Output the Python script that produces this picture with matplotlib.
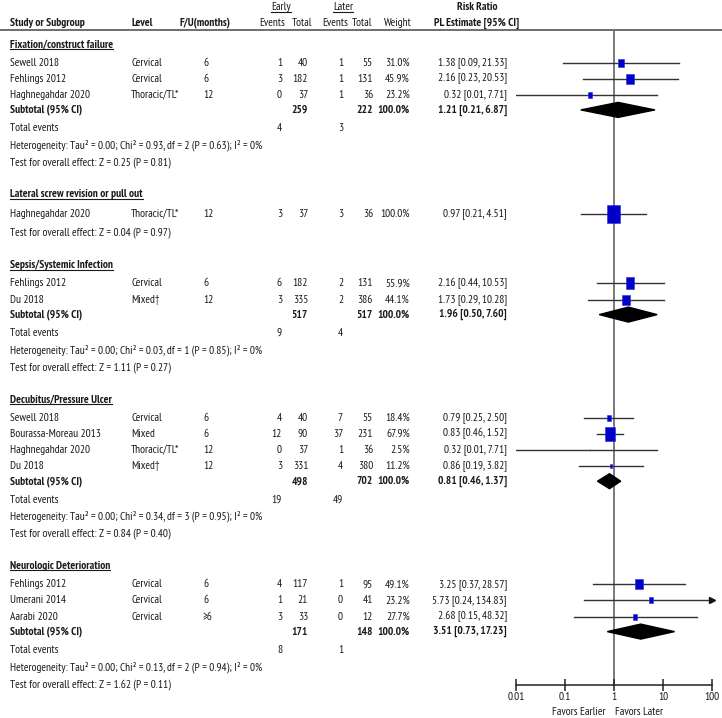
import matplotlib
matplotlib.use("Agg")
import matplotlib.pyplot as plt
from matplotlib import font_manager
from matplotlib.path import Path

# ------------------ DATA ------------------
GRUPOS = ["Fixation/construct failure", "Lateral screw revision or pull out",
          "Sepsis/Systemic Infection", "Decubitus/Pressure Ulcer",
          "Neurologic Deterioration"]

grupo = [0, 0, 0, 1, 2, 2, 3, 3, 3, 3, 4, 4, 4]
estudio = ["Sewell 2018", "Fehlings 2012", "Haghnegahdar 2020",
           "Haghnegahdar 2020",
           "Fehlings 2012", "Du 2018",
           "Sewell 2018", "Bourassa-Moreau 2013", "Haghnegahdar 2020", "Du 2018",
           "Fehlings 2012", "Umerani 2014", "Aarabi 2020"]
nivel = ["Cervical", "Cervical", "Thoracic/TL*",
         "Thoracic/TL*",
         "Cervical", "Mixed†",
         "Cervical", "Mixed", "Thoracic/TL*", "Mixed†",
         "Cervical", "Cervical", "Cervical"]
seguimiento = ["6", "6", "12", "12", "6", "12", "6", "6", "12", "12", "6", "6", "≥6"]
ev_early = [1, 3, 0, 3, 6, 3, 4, 12, 0, 3, 4, 1, 3]
n_early = [40, 182, 37, 37, 182, 335, 40, 90, 37, 331, 117, 21, 33]
ev_later = [1, 1, 1, 3, 2, 2, 7, 37, 1, 4, 1, 0, 0]
n_later = [55, 131, 36, 36, 131, 386, 55, 231, 36, 380, 95, 41, 12]
peso = [31.0, 45.9, 23.2, 100.0, 55.9, 44.1, 18.4, 67.9, 2.5, 11.2, 49.1, 23.2, 27.7]
rr = [1.38, 2.16, 0.32, 0.97, 2.16, 1.73, 0.79, 0.83, 0.32, 0.86, 3.25, 5.73, 2.68]
rr_lo = [0.09, 0.23, 0.01, 0.21, 0.44, 0.29, 0.25, 0.46, 0.01, 0.19, 0.37, 0.24, 0.15]
rr_hi = [21.33, 20.53, 7.71, 4.51, 10.53, 10.28, 2.50, 1.52, 7.71, 3.82, 28.57, 134.83, 48.32]

# subtotales por grupo (None = sin subtotal)
sub_n_early = [259, None, 517, 498, 171]
sub_n_later = [222, None, 517, 702, 148]
sub_rr = [1.21, None, 1.96, 0.81, 3.51]
sub_lo = [0.21, None, 0.50, 0.46, 0.73]
sub_hi = [6.87, None, 7.60, 1.37, 17.23]
tot_early = [4, None, 9, 19, 8]
tot_later = [3, None, 4, 49, 1]
chi2 = [0.93, None, 0.03, 0.34, 0.13]
gl = [2, None, 1, 3, 2]
p_het = [0.63, None, 0.85, 0.95, 0.94]
z_val = [0.25, 0.04, 1.11, 0.84, 1.62]
p_z = [0.81, 0.97, 0.27, 0.40, 0.11]

TICKS = [0.01, 0.1, 1, 10, 100]
TICK_LABELS = ["0.01", "0.1", "1", "10", "100"]


# ------------------ FUENTE ------------------
def elegir_fuente():
    preferidas = ["Liberation Sans Narrow", "Arial Narrow", "Nimbus Sans Narrow",
                  "PT Sans Narrow", "Roboto Condensed", "Open Sans Condensed",
                  "IBM Plex Sans Condensed", "Fira Sans Condensed", "Liberation Sans"]
    caras = font_manager.fontManager.ttflist
    for nombre in preferidas:
        estaticas = [f for f in caras if f.name == nombre and "[" not in f.fname]
        pesos = {f.weight for f in estaticas if f.style == "normal"}
        if any(w <= 450 for w in pesos) and any(w >= 600 for w in pesos):
            return nombre
    return "Liberation Sans"


FUENTE = elegir_fuente()
plt.rcParams["font.family"] = [FUENTE, "DejaVu Sans"]
TXT = "#1a1a1a"
AZUL = "#0000c8"

W, H = 722, 718
fig = plt.figure(figsize=(W / 100, H / 100), dpi=100)
ax = fig.add_axes([0, 0, 1, 1])
ax.set_xlim(0, W)
ax.set_ylim(H, 0)
ax.axis("off")

# tamaño de letra ajustado al ancho de la linea de heterogeneidad (~255 px)
r = fig.canvas.get_renderer()
prueba = ax.text(0, 0, "Heterogeneity: Tau² = 0.00; Chi² = 0.93, df = 2 (P = 0.63); I² = 0%",
                 fontsize=10)
FS = min(8.2, 10 * 255 / prueba.get_window_extent(r).width)
prueba.remove()

# eje del forest plot (escala log)
X0, X1 = 516, 712
fax = fig.add_axes([X0 / W, 0, (X1 - X0) / W, 1])
fax.set_xscale("log")
fax.set_xlim(0.01, 100)
fax.set_ylim(H, 0)
fax.patch.set_alpha(0)
for s in ["top", "left", "right"]:
    fax.spines[s].set_visible(False)
Y_EJE = 685
fax.spines["bottom"].set_position(("data", Y_EJE))
fax.spines["bottom"].set_color("#222222")
fax.spines["bottom"].set_linewidth(1.1)
fax.set_xticks(TICKS)
fax.set_xticklabels(TICK_LABELS)
fax.minorticks_off()
fax.tick_params(axis="x", direction="inout", length=8, width=1.1, color="#222222",
                labelsize=FS, labelcolor=TXT, pad=1)
fax.set_yticks([])

subrayar = []


def texto(x, y, s, ha="left", bold=False, under=False):
    t = ax.text(x, y, s, ha=ha, va="center", fontsize=FS, color=TXT,
                fontweight="bold" if bold else "normal")
    if under:
        subrayar.append(t)
    return t


# ------------------ COLUMNAS ------------------
C_EST, C_NIV, C_FU = 10, 131, 203
C_EE, C_NE, C_EL, C_NL, C_W, C_RR = 282, 308, 343, 373, 410, 507

# encabezado
texto(281, 7, "Early", ha="center", under=True)
texto(343, 7, "Later", ha="center", under=True)
texto(477, 7, "Risk Ratio", ha="center", bold=True)
Y_H = 23
texto(C_EST, Y_H, "Study or Subgroup", bold=True)
texto(C_NIV, Y_H, "Level", bold=True)
texto(180, Y_H, "F/U(months)", bold=True)
texto(285, Y_H, "Events", ha="right")
texto(312, Y_H, "Total", ha="right")
texto(348, Y_H, "Events", ha="right")
texto(372, Y_H, "Total", ha="right")
texto(412, Y_H, "Weight", ha="right")
texto(477, Y_H, "PL Estimate [95% CI]", ha="center", bold=True)
ax.plot([0, W], [30, 30], color="#555555", lw=1.2)

# linea vertical en RR = 1
fax.plot([1, 1], [30, Y_EJE], color="#707070", lw=1.3, zorder=1)

# marcador rectangular
rect = Path([(-0.36, -0.5), (0.36, -0.5), (0.36, 0.5), (-0.36, 0.5), (-0.36, -0.5)],
            [Path.MOVETO, Path.LINETO, Path.LINETO, Path.LINETO, Path.CLOSEPOLY])

# ------------------ FILAS ------------------
y = 44
for g, nombre in enumerate(GRUPOS):
    texto(C_EST, y, nombre, bold=True, under=True)
    idx = [i for i in range(len(estudio)) if grupo[i] == g]
    y += 18.5 if sub_rr[g] is not None else 19.5
    for k, i in enumerate(idx):
        if k > 0:
            y += 16.2
        texto(C_EST, y, estudio[i])
        texto(C_NIV, y, nivel[i])
        texto(C_FU, y, seguimiento[i])
        texto(C_EE, y, str(ev_early[i]), ha="right")
        texto(C_NE, y, str(n_early[i]), ha="right")
        texto(C_EL, y, str(ev_later[i]), ha="right")
        texto(C_NL, y, str(n_later[i]), ha="right")
        texto(C_W, y, f"{peso[i]:.1f}%", ha="right")
        texto(C_RR, y, f"{rr[i]:.2f} [{rr_lo[i]:.2f}, {rr_hi[i]:.2f}]", ha="right")
        hi = min(rr_hi[i], 100)
        fax.plot([rr_lo[i], hi], [y, y], color="#333333", lw=1.0, zorder=2)
        if rr_hi[i] > 100:
            fax.plot([100], [y], marker=">", color="#111111", ms=4, clip_on=False, zorder=3)
        fax.plot([rr[i]], [y], marker=rect, ms=13 * (peso[i] / 100) ** 0.75,
                 color=AZUL, mec="#2a2ae0", mew=0.4, zorder=4)
    if sub_rr[g] is not None:
        y += 15
        texto(C_EST, y, "Subtotal (95% CI)", bold=True)
        texto(C_NE, y, str(sub_n_early[g]), ha="right", bold=True)
        texto(C_NL, y, str(sub_n_later[g]), ha="right", bold=True)
        texto(C_W, y, "100.0%", ha="right", bold=True)
        texto(C_RR, y, f"{sub_rr[g]:.2f} [{sub_lo[g]:.2f}, {sub_hi[g]:.2f}]", ha="right", bold=True)
        fax.fill([sub_lo[g], sub_rr[g], sub_hi[g], sub_rr[g]], [y, y - 7.5, y, y + 7.5],
                 color="black", zorder=4)
        y += 18.5
        texto(C_EST, y, "Total events")
        texto(C_EE, y, str(tot_early[g]), ha="right")
        texto(C_EL, y, str(tot_later[g]), ha="right")
        y += 17
        texto(C_EST, y, f"Heterogeneity: Tau² = 0.00; Chi² = {chi2[g]:.2f}, df = {gl[g]} "
                        f"(P = {p_het[g]:.2f}); I² = 0%")
        y += 17
    else:
        y += 19
    texto(C_EST, y, f"Test for overall effect: Z = {z_val[g]:.2f} (P = {p_z[g]:.2f})")
    y += 32

# etiquetas del eje
texto(606, 712, "Favors Earlier", ha="right")
texto(615, 712, "Favors Later")

# subrayados
fig.canvas.draw()
r = fig.canvas.get_renderer()
inv = ax.transData.inverted()
for t in subrayar:
    bb = t.get_window_extent(r)
    (xa, ya), (xb, yb) = inv.transform([(bb.x0, bb.y0), (bb.x1, bb.y1)])
    yl = max(ya, yb) - 0.5
    ax.plot([xa, xb], [yl, yl], color=TXT, lw=0.8)

fig.savefig("out.png", dpi=100)
